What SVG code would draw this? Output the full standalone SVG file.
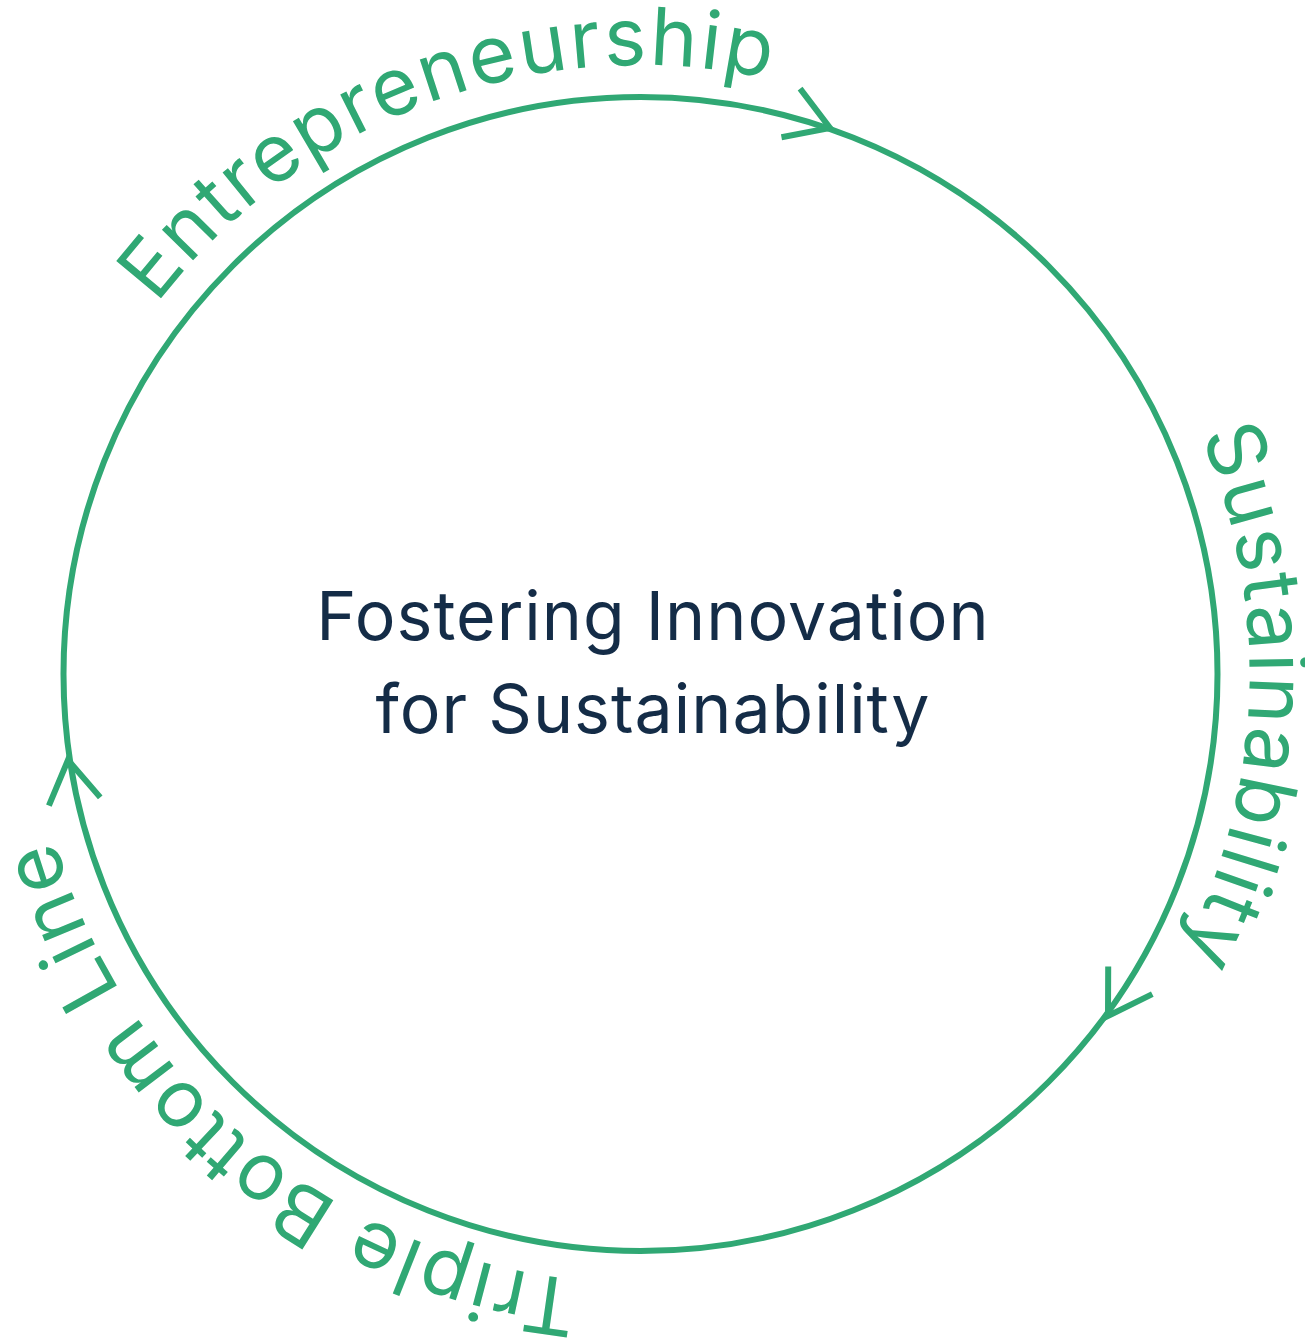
<svg xmlns="http://www.w3.org/2000/svg" xmlns:xlink="http://www.w3.org/1999/xlink" width="1305" height="1339" viewBox="0 0 1305 1339">
  <style>
    .ring { fill: none; stroke: #30a874; stroke-width: 6; }
    .chev { fill: none; stroke: #30a874; stroke-width: 6; stroke-linecap: butt; stroke-linejoin: miter; }
    .arc-label { font-family: Inter, "Noto Sans", "Liberation Sans", sans-serif; font-size: 80px; fill: #30a874; letter-spacing: 2.5px; }
    .center-label { font-family: Inter, "Noto Sans", "Liberation Sans", sans-serif; font-size: 68px; fill: #142c47; text-anchor: middle; letter-spacing: 1px; }
  </style>
  <defs>
    <path id="textCircle" d="M 31.5 674 A 609 609 0 1 1 1249.5 674 A 609 609 0 1 1 31.5 674"/>
    <path id="chevron" class="chev" d="M -42 -26 L 0 0 L -42 26"/>
  </defs>
  <rect width="1305" height="1339" fill="#ffffff"/>
  <g id="connectors">
    <circle class="ring" cx="640.5" cy="674" r="577"/>
    <use xlink:href="#chevron" href="#chevron" transform="translate(830 128) rotate(21)"/>
    <use xlink:href="#chevron" href="#chevron" transform="translate(1108 1016) rotate(122)"/>
    <use xlink:href="#chevron" href="#chevron" transform="translate(68 760) rotate(-99)"/>
  </g>
  <g id="node-entrepreneurship">
    <text class="arc-label" text-anchor="middle"><textPath xlink:href="#textCircle" href="#textCircle" startOffset="743">Entrepreneurship</textPath></text>
  </g>
  <g id="node-sustainability">
    <text class="arc-label" text-anchor="middle"><textPath xlink:href="#textCircle" href="#textCircle" startOffset="1937">Sustainability</textPath></text>
  </g>
  <g id="node-triple-bottom-line">
    <text class="arc-label" text-anchor="middle"><textPath xlink:href="#textCircle" href="#textCircle" startOffset="3296">Triple Bottom Line</textPath></text>
  </g>
  <g id="node-center">
    <text class="center-label" x="653" y="640">Fostering Innovation</text>
    <text class="center-label" x="653" y="733">for Sustainability</text>
  </g>
</svg>
